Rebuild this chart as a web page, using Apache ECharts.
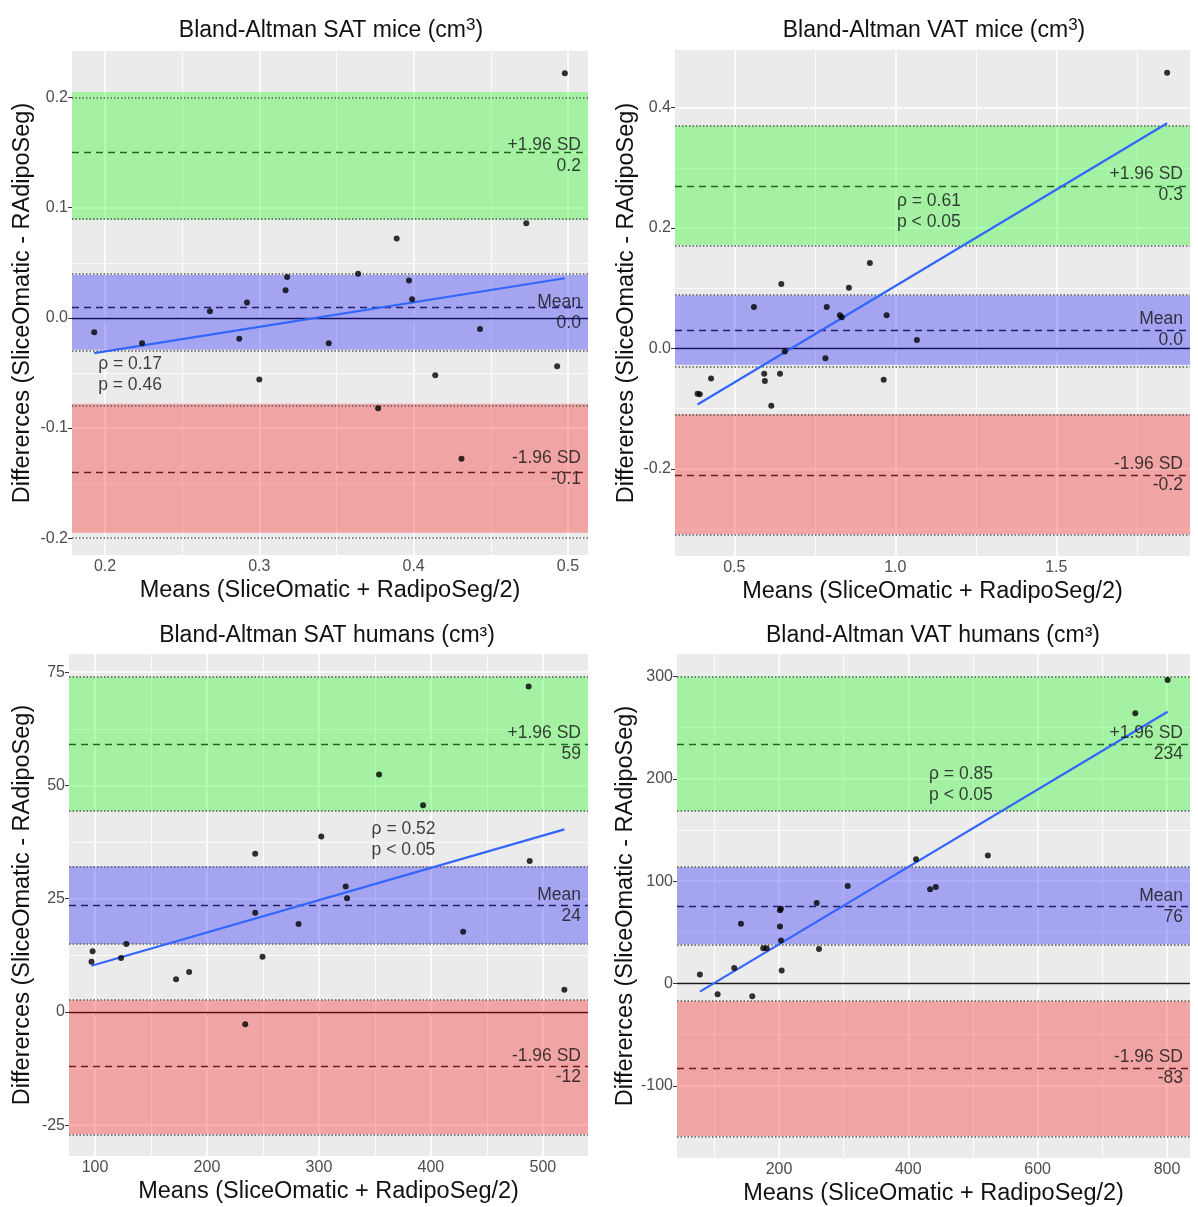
<!DOCTYPE html>
<html><head><meta charset="utf-8">
<script src="https://cdn.jsdelivr.net/npm/echarts@6/dist/echarts.min.js"></script>
<style>html,body{margin:0;padding:0;background:#fff}#c{width:1198px;height:1207px}</style>
</head><body><div id="c"></div>
<script>
// ---------- DATA ----------
const panelTitles = ['Bland-Altman SAT mice (cm{s|3})', 'Bland-Altman VAT mice (cm{s|3})', 'Bland-Altman SAT humans (cm³)', 'Bland-Altman VAT humans (cm³)'];
const xAxisTitle = 'Means (SliceOmatic + RadipoSeg/2)';
const yAxisTitle = 'Differerces (SliceOmatic - RAdipoSeg)';

// SAT mice
const satMiceMeans = [0.193,0.224,0.268,0.287,0.292,0.300,0.317,0.318,0.345,0.364,0.377,0.389,0.397,0.399,0.414,0.431,0.443,0.473,0.493,0.498];
const satMiceDiffs = [-0.013,-0.023,0.006,-0.019,0.014,-0.056,0.025,0.037,-0.023,0.040,-0.082,0.072,0.034,0.017,-0.052,-0.128,-0.010,0.086,-0.044,0.222];
const satMiceUpper = [0.089, 0.147, 0.205];
const satMiceMean = [-0.029, 0.005, 0.039];
const satMiceLower = [-0.195, -0.137, -0.078];
const satMiceBandLabels = ['0.2', '0.0', '-0.1'];
const satMiceFit = [[0.193, -0.032], [0.498, 0.036]];
const satMiceStat = ['ρ = 0.17', 'p = 0.46'];
const satMiceStatAt = [0.1955, -0.052];
const satMiceXRange = [0.1786, 0.513];
const satMiceYRange = [-0.2153, 0.2423];
const satMiceXTicks = [0.2, 0.3, 0.4, 0.5];
const satMiceXMinor = [0.25, 0.35, 0.45];
const satMiceYTicks = [-0.2, -0.1, 0, 0.1, 0.2];
const satMiceYMinor = [-0.15, -0.05, 0.05, 0.15];

// VAT mice
const vatMiceMeans = [0.386,0.393,0.428,0.561,0.593,0.595,0.615,0.642,0.646,0.657,0.783,0.787,0.828,0.834,0.856,0.921,0.964,0.973,1.067,1.844];
const vatMiceDiffs = [-0.075,-0.076,-0.050,0.069,-0.042,-0.054,-0.095,-0.042,0.107,-0.005,-0.016,0.069,0.055,0.052,0.101,0.142,-0.052,0.055,0.014,0.458];
const vatMiceUpper = [0.172, 0.272, 0.370];
const vatMiceMean = [-0.027, 0.031, 0.088];
const vatMiceLower = [-0.308, -0.209, -0.109];
const vatMiceBandLabels = ['0.3', '0.0', '-0.2'];
const vatMiceFit = [[0.386, -0.093], [1.844, 0.374]];
const vatMiceStat = ['ρ = 0.61', 'p < 0.05'];
const vatMiceStatAt = [1.005, 0.228];
const vatMiceXRange = [0.316, 1.915];
const vatMiceYRange = [-0.3446, 0.4957];
const vatMiceXTicks = [0.5, 1.0, 1.5];
const vatMiceXMinor = [0.75, 1.25, 1.75];
const vatMiceYTicks = [-0.2, 0, 0.2, 0.4];
const vatMiceYMinor = [-0.3, -0.1, 0.1, 0.3];

// SAT humans
const satHumMeans = [96.9,97.9,123.3,128.0,172.4,184.1,234.2,243.1,243.1,249.6,281.8,302.1,323.9,325.1,353.7,393.0,428.8,487.3,488.2,519.2];
const satHumDiffs = [11.1,13.4,11.9,15.0,7.2,8.8,-2.7,34.9,21.9,12.2,19.4,38.7,27.7,25.1,52.4,45.6,17.7,71.8,33.3,4.9];
const satHumUpper = [44.3, 59.1, 74.0];
const satHumMean = [15.0, 23.5, 32.1];
const satHumLower = [-27.0, -12.1, 2.6];
const satHumBandLabels = ['59', '24', '-12'];
const satHumFit = [[96.9, 10.2], [519.2, 40.3]];
const satHumStat = ['ρ = 0.52', 'p < 0.05'];
const satHumStatAt = [347, 38];
const satHumXRange = [76.8, 540.3];
const satHumYRange = [-31.8, 79];
const satHumXTicks = [100, 200, 300, 400, 500];
const satHumXMinor = [150, 250, 350, 450];
const satHumYTicks = [-25, 0, 25, 50, 75];
const satHumYMinor = [-12.5, 12.5, 37.5, 62.5];

// VAT humans
const vatHumMeans = [77.7,105.1,130.8,141.2,158.7,175.7,181.0,201.5,203.0,201.5,203.1,204.2,258.3,261.9,306.3,412.0,433.7,442.5,523.0,751.0,801.0];
const vatHumDiffs = [8.8,-10.6,15.2,58.4,-12.4,34.3,34.3,71.5,73.0,55.6,42.1,12.7,78.6,33.6,95.2,121.5,92.0,94.2,125.0,264.0,296.6];
const vatHumUpper = [168.5, 234, 300.2];
const vatHumMean = [38.2, 75.4, 113.6];
const vatHumLower = [-149.4, -82.8, -17.3];
const vatHumBandLabels = ['234', '76', '-83'];
const vatHumFit = [[77.7, -8], [801, 265.5]];
const vatHumStat = ['ρ = 0.85', 'p < 0.05'];
const vatHumStatAt = [432, 194];
const vatHumXRange = [42.3, 835.6];
const vatHumYRange = [-170.6, 322];
const vatHumXTicks = [200, 400, 600, 800];
const vatHumXMinor = [100, 300, 500, 700];
const vatHumYTicks = [-100, 0, 100, 200, 300];
const vatHumYMinor = [-150, -50, 50, 150, 250];

const bandNames = ['+1.96 SD', 'Mean', '-1.96 SD'];

// ---------- LAYOUT ----------
const layout = [
  {left: 72, top: 51, width: 516, height: 504, titleX: 326, titleY: 12, yGap: 37},
  {left: 675, top: 50, width: 515, height: 506, titleX: 929, titleY: 12, yGap: 36},
  {left: 69, top: 654, width: 519, height: 502, titleX: 322, titleY: 617, yGap: 34},
  {left: 677, top: 654, width: 513, height: 505, titleX: 928, titleY: 617, yGap: 38}
];

const panels = [
  {means: satMiceMeans, diffs: satMiceDiffs, bands: [satMiceUpper, satMiceMean, satMiceLower], bandLabels: satMiceBandLabels, fit: satMiceFit, stat: satMiceStat, statAt: satMiceStatAt, xr: satMiceXRange, yr: satMiceYRange, xt: satMiceXTicks, xm: satMiceXMinor, yt: satMiceYTicks, ym: satMiceYMinor, dec: 1},
  {means: vatMiceMeans, diffs: vatMiceDiffs, bands: [vatMiceUpper, vatMiceMean, vatMiceLower], bandLabels: vatMiceBandLabels, fit: vatMiceFit, stat: vatMiceStat, statAt: vatMiceStatAt, xr: vatMiceXRange, yr: vatMiceYRange, xt: vatMiceXTicks, xm: vatMiceXMinor, yt: vatMiceYTicks, ym: vatMiceYMinor, dec: 1},
  {means: satHumMeans, diffs: satHumDiffs, bands: [satHumUpper, satHumMean, satHumLower], bandLabels: satHumBandLabels, fit: satHumFit, stat: satHumStat, statAt: satHumStatAt, xr: satHumXRange, yr: satHumYRange, xt: satHumXTicks, xm: satHumXMinor, yt: satHumYTicks, ym: satHumYMinor, dec: 0},
  {means: vatHumMeans, diffs: vatHumDiffs, bands: [vatHumUpper, vatHumMean, vatHumLower], bandLabels: vatHumBandLabels, fit: vatHumFit, stat: vatHumStat, statAt: vatHumStatAt, xr: vatHumXRange, yr: vatHumYRange, xt: vatHumXTicks, xm: vatHumXMinor, yt: vatHumYTicks, ym: vatHumYMinor, dec: 0}
];

const FONT = '"Liberation Sans", Arial, sans-serif';
const bandFill = ['rgba(0,255,0,0.3)', 'rgba(0,0,255,0.3)', 'rgba(255,0,0,0.3)'];

const option = {
  backgroundColor: '#ffffff',
  animation: false,
  textStyle: {fontFamily: FONT},
  title: [], grid: [], xAxis: [], yAxis: [], series: []
};

panels.forEach((p, i) => {
  const L = layout[i];
  option.title.push({
    text: panelTitles[i], left: L.titleX, top: L.titleY, textAlign: 'center',
    textStyle: {fontFamily: FONT, fontSize: 23, fontWeight: 'normal', color: '#111', lineHeight: 28,
      rich: {s: {fontFamily: FONT, fontSize: 17, verticalAlign: 'top', lineHeight: 14, color: '#111'}}}
  });
  option.grid.push({left: L.left, top: L.top, width: L.width, height: L.height, show: true,
    backgroundColor: '#EBEBEB', borderWidth: 0, containLabel: false});
  const fmt = v => p.dec ? Number(v).toFixed(p.dec) : String(Math.round(v));
  option.xAxis.push({
    type: 'value', gridIndex: i, min: p.xr[0], max: p.xr[1],
    axisLine: {show: false},
    axisTick: {show: true, customValues: p.xt, length: 4, lineStyle: {color: '#333', width: 1}},
    axisLabel: {customValues: p.xt, formatter: fmt, color: '#4D4D4D', fontSize: 16, margin: 4, fontFamily: FONT},
    splitLine: {show: false},
    name: xAxisTitle, nameLocation: 'middle', nameGap: 24,
    nameTextStyle: {color: '#111', fontSize: 23.5, fontFamily: FONT}
  });
  option.yAxis.push({
    type: 'value', gridIndex: i, min: p.yr[0], max: p.yr[1],
    axisLine: {show: false},
    axisTick: {show: true, customValues: p.yt, length: 4, lineStyle: {color: '#333', width: 1}},
    axisLabel: {customValues: p.yt, formatter: fmt, color: '#4D4D4D', fontSize: 16, margin: 4, fontFamily: FONT},
    splitLine: {show: false},
    name: yAxisTitle, nameLocation: 'middle', nameGap: L.yGap, nameRotate: 90,
    nameTextStyle: {color: '#111', fontSize: 23.5, fontFamily: FONT}
  });

  // gridlines
  const gl = [];
  p.xm.forEach(v => gl.push({xAxis: v, lineStyle: {color: '#fff', width: 0.8, type: 'solid'}}));
  p.ym.forEach(v => gl.push({yAxis: v, lineStyle: {color: '#fff', width: 0.8, type: 'solid'}}));
  p.xt.forEach(v => gl.push({xAxis: v, lineStyle: {color: '#fff', width: 1.6, type: 'solid'}}));
  p.yt.forEach(v => gl.push({yAxis: v, lineStyle: {color: '#fff', width: 1.6, type: 'solid'}}));
  option.series.push({type: 'line', xAxisIndex: i, yAxisIndex: i, data: [], silent: true, z: 1,
    markLine: {silent: true, z: 1, symbol: ['none', 'none'], label: {show: false}, animation: false, data: gl}});

  // zero line and centre dashed lines (under the bands)
  const rl = [{yAxis: 0, lineStyle: {color: '#1a1a1a', width: 1.4, type: 'solid'}}];
  p.bands.forEach(b => rl.push({yAxis: b[1], lineStyle: {color: '#2a2a2a', width: 1.3, type: [7, 5]}}));
  option.series.push({type: 'line', xAxisIndex: i, yAxisIndex: i, data: [], silent: true, z: 2,
    markLine: {silent: true, z: 2, symbol: ['none', 'none'], label: {show: false}, animation: false, data: rl}});

  // bands
  option.series.push({type: 'line', xAxisIndex: i, yAxisIndex: i, data: [], silent: true, z: 3,
    markArea: {silent: true, z: 3, label: {show: false},
      data: p.bands.map((b, k) => [{yAxis: b[0], itemStyle: {color: bandFill[k], borderWidth: 0}}, {yAxis: b[2]}])}});

  // dotted band edges
  const el = [];
  p.bands.forEach(b => {
    el.push({yAxis: b[0], lineStyle: {color: '#5a5a5a', width: 1.5, type: [1.5, 2]}});
    el.push({yAxis: b[2], lineStyle: {color: '#5a5a5a', width: 1.5, type: [1.5, 2]}});
  });
  option.series.push({type: 'line', xAxisIndex: i, yAxisIndex: i, data: [], silent: true, z: 4,
    markLine: {silent: true, z: 4, symbol: ['none', 'none'], label: {show: false}, animation: false, data: el}});

  // regression line
  option.series.push({type: 'line', xAxisIndex: i, yAxisIndex: i, data: p.fit, z: 5, symbol: 'none',
    lineStyle: {color: '#3366FF', width: 2.2}, silent: true});

  // points
  option.series.push({type: 'scatter', xAxisIndex: i, yAxisIndex: i, z: 6,
    data: p.means.map((m, k) => [m, p.diffs[k]]), symbolSize: 6, itemStyle: {color: '#000'}, silent: true});

  // band labels
  option.series.push({type: 'scatter', xAxisIndex: i, yAxisIndex: i, z: 7, silent: true, symbolSize: 0.1,
    itemStyle: {color: 'rgba(0,0,0,0)'},
    data: p.bands.map((b, k) => ({value: [p.xr[1], b[1]],
      label: {show: true, position: 'left', distance: 7, align: 'right', formatter: bandNames[k] + '\n' + p.bandLabels[k],
        fontSize: 17.5, lineHeight: 21, color: '#111', fontFamily: FONT}}))});

  // stat annotation
  option.series.push({type: 'scatter', xAxisIndex: i, yAxisIndex: i, z: 7, silent: true, symbolSize: 0.1,
    itemStyle: {color: 'rgba(0,0,0,0)'},
    data: [{value: p.statAt, label: {show: true, position: 'right', distance: 0, align: 'left',
      formatter: p.stat.join('\n'), fontSize: 17.5, lineHeight: 21, color: '#111', fontFamily: FONT}}]});
});

const chart = echarts.init(document.getElementById('c'), null, {renderer: 'canvas'});
chart.setOption(option);
</script>
</body></html>
